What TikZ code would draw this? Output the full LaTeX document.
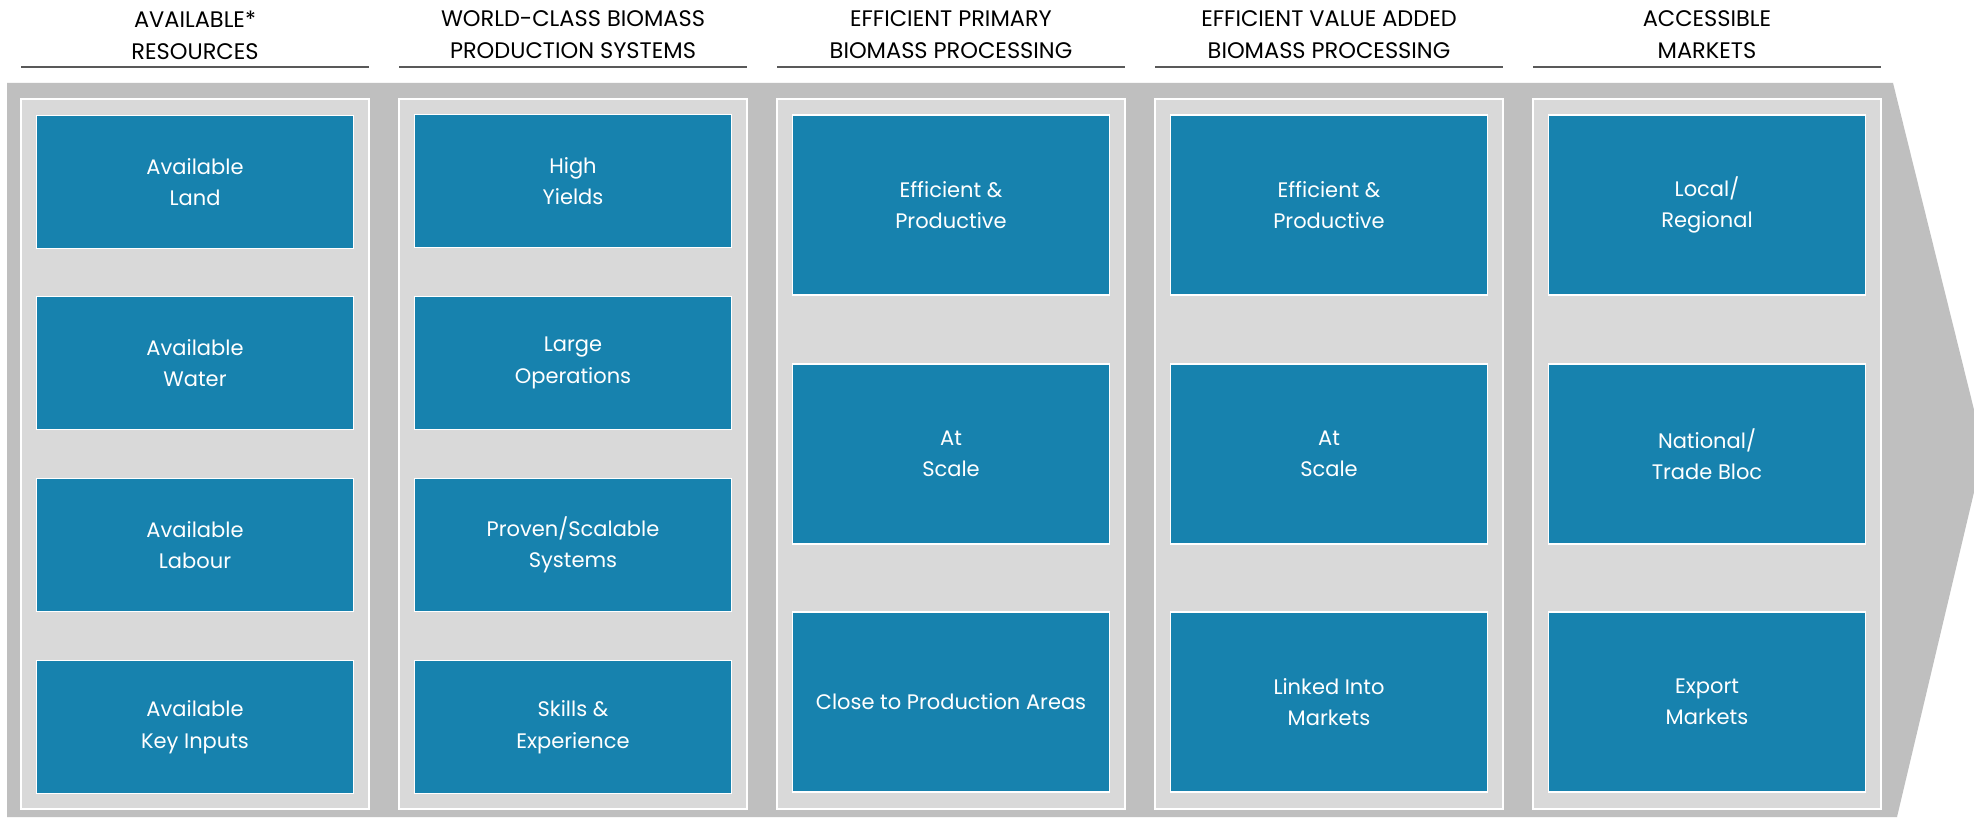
\documentclass[tikz,border=0pt]{standalone}
\usepackage{fontspec}
\setmainfont{Poppins}
\definecolor{cellblue}{HTML}{1782AE}
\definecolor{arrowgray}{HTML}{BFBFBF}
\definecolor{panelgray}{HTML}{D9D9D9}
\definecolor{rulegray}{HTML}{595959}
\tikzset{
  head/.style={align=center, font=\fontsize{22.5}{32}\selectfont, text=black},
  panel/.style={draw=white, line width=1.5pt, fill=panelgray, minimum width=348, minimum height=710, inner sep=0pt},
  cell/.style={draw=white, line width=1.5pt, fill=cellblue, text=white, align=center, minimum width=317, inner sep=0pt, font=\fontsize{21}{31.5}\selectfont},
  cellshort/.style={cell, minimum height=133},
  celltall/.style={cell, minimum height=180}
}
\begin{document}
\begin{tikzpicture}[x=1pt, y=-1pt]
		\clip (0,0) rectangle (1974,818);
		\fill[white] (0,0) rectangle (1974,818);
		
		% Big arrow behind everything
		\fill[arrowgray] (7,83) -- (1893,83) -- (1984,450) -- (1897,817) -- (7,817) -- cycle;
		
		% Headers
		\node[head] (h1) at (195,35) {AVAILABLE*\\RESOURCES};
		\node[head] (h2) at (573,35) {WORLD-CLASS BIOMASS\\PRODUCTION SYSTEMS};
		\node[head] (h3) at (951,35) {EFFICIENT PRIMARY\\BIOMASS PROCESSING};
		\node[head] (h4) at (1329,35) {EFFICIENT VALUE ADDED\\BIOMASS PROCESSING};
		\node[head] (h5) at (1707,35) {ACCESSIBLE\\MARKETS};
		\foreach \c in {195,573,951,1329,1707}
			\draw[rulegray, line width=1.2pt] (\c-174,67) -- (\c+174,67);
		
		% Column panels
		\node[panel] (p1) at (195,454) {};
		\node[panel] (p2) at (573,454) {};
		\node[panel] (p3) at (951,454) {};
		\node[panel] (p4) at (1329,454) {};
		\node[panel] (p5) at (1707,454) {};
		
		% Column 1: resources
		\node[cellshort] (land) at (195,182) {Available\\Land};
		\node[cellshort] (water) at (195,363) {Available\\Water};
		\node[cellshort] (labour) at (195,545) {Available\\Labour};
		\node[cellshort] (inputs) at (195,727) {Available\\Key Inputs};
		
		% Column 2: production systems
		\node[cellshort] (yields) at (573,181) {High\\Yields};
		\node[cellshort] (operations) at (573,363) {Large\\Operations};
		\node[cellshort] (systems) at (573,545) {Proven/Scalable\\Systems};
		\node[cellshort] (skills) at (573,727) {Skills \&\\Experience};
		
		% Column 3: primary processing
		\node[celltall] (primeff) at (951,205) {Efficient \&\\Productive};
		\node[celltall] (primscale) at (951,454) {At\\Scale};
		\node[celltall] (primclose) at (951,702) {Close to Production Areas};
		
		% Column 4: value added processing
		\node[celltall] (valeff) at (1329,205) {Efficient \&\\Productive};
		\node[celltall] (valscale) at (1329,454) {At\\Scale};
		\node[celltall] (vallinked) at (1329,702) {Linked Into\\Markets};
		
		% Column 5: markets
		\node[celltall] (local) at (1707,205) {Local/\\Regional};
		\node[celltall] (national) at (1707,454) {National/\\Trade Bloc};
		\node[celltall] (export) at (1707,702) {Export\\Markets};
		
	\end{tikzpicture}
\end{document}
